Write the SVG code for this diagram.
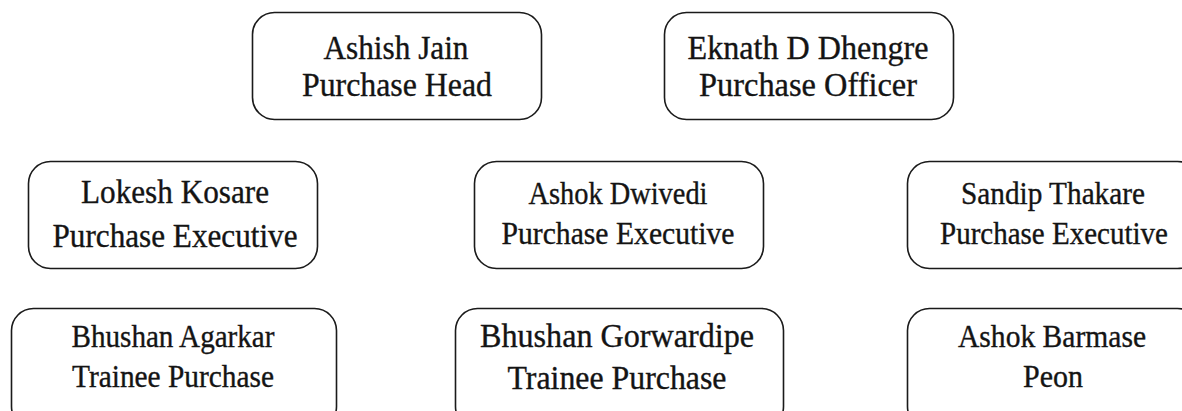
<svg xmlns="http://www.w3.org/2000/svg" width="1182" height="411" viewBox="0 0 1182 411">
<style>
.box{fill:#fff;stroke:#1a1a1a;stroke-width:1.6}
.t{font-family:"Liberation Serif","Times New Roman",serif;fill:#141414;stroke:#141414;stroke-width:0.35;text-anchor:middle}
.l{font-size:33px}
.m{font-size:31px}
</style>
<rect width="1182" height="411" fill="#fff"/>
<g id="connectors"></g>
<g id="n1"><rect class="box" x="252.5" y="12.5" width="289" height="107" rx="22"/>
<text class="t l" x="396" y="59" textLength="145" lengthAdjust="spacingAndGlyphs">Ashish Jain</text><text class="t l" x="397" y="96" textLength="190" lengthAdjust="spacingAndGlyphs">Purchase Head</text></g>
<g id="n2"><rect class="box" x="664.5" y="12.5" width="289" height="107" rx="22"/>
<text class="t l" x="808" y="59" textLength="241" lengthAdjust="spacingAndGlyphs">Eknath D Dhengre</text><text class="t l" x="808" y="96" textLength="218" lengthAdjust="spacingAndGlyphs">Purchase Officer</text></g>
<g id="n3"><rect class="box" x="28.5" y="161.5" width="289" height="107" rx="22"/>
<text class="t l" x="175" y="203" textLength="188" lengthAdjust="spacingAndGlyphs">Lokesh Kosare</text><text class="t l" x="175" y="247" textLength="245" lengthAdjust="spacingAndGlyphs">Purchase Executive</text></g>
<g id="n4"><rect class="box" x="474.5" y="161.5" width="289" height="107" rx="22"/>
<text class="t m" x="618" y="204" textLength="179" lengthAdjust="spacingAndGlyphs">Ashok Dwivedi</text><text class="t m" x="618" y="244" textLength="233" lengthAdjust="spacingAndGlyphs">Purchase Executive</text></g>
<g id="n5"><rect class="box" x="907.5" y="161.5" width="292" height="107" rx="22"/>
<text class="t m" x="1053" y="204" textLength="184" lengthAdjust="spacingAndGlyphs">Sandip Thakare</text><text class="t m" x="1054" y="244" textLength="228" lengthAdjust="spacingAndGlyphs">Purchase Executive</text></g>
<g id="n6"><rect class="box" x="11.5" y="308.5" width="325" height="120" rx="22"/>
<text class="t m" x="173" y="347" textLength="203" lengthAdjust="spacingAndGlyphs">Bhushan Agarkar</text><text class="t m" x="173" y="387" textLength="202" lengthAdjust="spacingAndGlyphs">Trainee Purchase</text></g>
<g id="n7"><rect class="box" x="455.5" y="308.5" width="328" height="120" rx="22"/>
<text class="t l" x="617" y="347" textLength="274" lengthAdjust="spacingAndGlyphs">Bhushan Gorwardipe</text><text class="t l" x="617" y="389" textLength="219" lengthAdjust="spacingAndGlyphs">Trainee Purchase</text></g>
<g id="n8"><rect class="box" x="907.5" y="308.5" width="292" height="120" rx="22"/>
<text class="t m" x="1052" y="347" textLength="188" lengthAdjust="spacingAndGlyphs">Ashok Barmase</text><text class="t m" x="1053" y="387" textLength="60" lengthAdjust="spacingAndGlyphs">Peon</text></g>
</svg>
